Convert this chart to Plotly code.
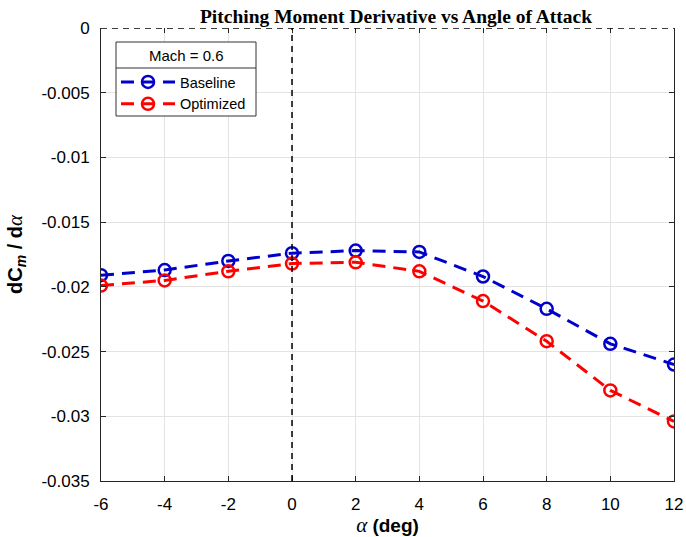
import plotly.graph_objects as go

# Angle of attack (deg)
alpha = [-6, -4, -2, 0, 2, 4, 6, 8, 10, 12]

# Pitching moment derivative dCm/dalpha at Mach 0.6
baseline = [-0.0191, -0.0187, -0.0180, -0.0174, -0.0172, -0.0173, -0.0192, -0.0217, -0.0244, -0.0260]
optimized = [-0.0199, -0.0195, -0.0188, -0.0182, -0.0181, -0.0188, -0.0211, -0.0242, -0.0280, -0.0304]

x_ticks = [-6, -4, -2, 0, 2, 4, 6, 8, 10, 12]
x_tick_text = ["-6", "-4", "-2", "0", "2", "4", "6", "8", "10", "12"]
y_ticks = [0, -0.005, -0.01, -0.015, -0.02, -0.025, -0.03, -0.035]
y_tick_text = ["0", "-0.005", "-0.01", "-0.015", "-0.02", "-0.025", "-0.03", "-0.035"]
legend_title = "Mach = 0.6"

BLUE = "#0000cc"
RED = "#ff0000"
AXIS = "#262626"
GRID = "#e3e3e3"
SANS = "Liberation Sans, Arial, sans-serif"
SERIF = "Liberation Serif, Times New Roman, serif"

# plot-area geometry in pixels (used to place the legend box)
L, R, T, B = 101, 674, 28, 481
W, H = R - L, B - T


def px(xp):
    return (xp - L) / W


def py(yp):
    return (B - yp) / H


fig = go.Figure()

for name, vals, col in [("Baseline", baseline, BLUE), ("Optimized", optimized, RED)]:
    fig.add_trace(go.Scatter(
        x=alpha, y=vals, name=name, mode="lines+markers",
        line=dict(color=col, width=3, dash="13px,8px"),
        marker=dict(symbol="circle-open", size=12, color=col, line=dict(width=2.5, color=col)),
    ))

# dashed reference lines at alpha = 0 and dCm/dalpha = 0
fig.add_shape(type="line", xref="x", yref="paper", x0=0, x1=0, y0=0, y1=1,
              line=dict(color="black", width=1.5, dash="6px,5px"), layer="above")
fig.add_shape(type="line", xref="paper", yref="y", x0=0, x1=1, y0=0, y1=0,
              line=dict(color="black", width=1.5, dash="6px,5px"), layer="above")

# legend box with titled header
fig.add_shape(type="rect", xref="paper", yref="paper",
              x0=px(116), x1=px(256), y0=py(116), y1=py(42),
              fillcolor="white", line=dict(color="#333333", width=1), layer="above")
fig.add_shape(type="line", xref="paper", yref="paper",
              x0=px(116), x1=px(256), y0=py(68), y1=py(68),
              line=dict(color="#333333", width=1), layer="above")
fig.add_annotation(xref="paper", yref="paper", x=px(186), y=py(56),
                   text=legend_title, showarrow=False, xanchor="center", yanchor="middle",
                   font=dict(family=SANS, size=15, color="black"))

fig.update_layout(
    width=686, height=537,
    margin=dict(l=L, r=686 - R, t=T, b=537 - B, autoexpand=False),
    paper_bgcolor="white", plot_bgcolor="white",
    title=dict(
        text="<b>Pitching Moment Derivative vs Angle of Attack</b>",
        font=dict(family=SERIF, size=19.5, color="black"),
        x=396 / 686, xanchor="center", y=1 - 16 / 537, yanchor="middle",
    ),
    legend=dict(
        x=px(116), y=py(66), xanchor="left", yanchor="top",
        borderwidth=0, bgcolor="rgba(0,0,0,0)",
        font=dict(family=SANS, size=14.5, color="black"),
        tracegroupgap=0, itemwidth=54,
    ),
    xaxis=dict(
        range=[-6, 12], tickvals=x_ticks, ticktext=x_tick_text,
        ticks="inside", ticklen=5, tickcolor=AXIS,
        showline=True, linecolor=AXIS, linewidth=1, mirror=False, automargin=False,
        showgrid=True, gridcolor=GRID, gridwidth=1, zeroline=False,
        tickfont=dict(family=SANS, size=17, color="black"), ticklabelstandoff=8,
        title=dict(
            text="<span style='font-family:Liberation Serif;font-style:italic;font-size:21px;font-weight:normal'>α</span> (deg)",
            font=dict(family=SANS, size=19, color="black", weight="bold"), standoff=6,
        ),
    ),
    xaxis2=dict(
        range=[-6, 12], tickvals=x_ticks, ticks="inside", ticklen=5, tickcolor=AXIS,
        overlaying="x", side="top", showline=False, showgrid=False, zeroline=False,
        showticklabels=False, automargin=False,
    ),
    yaxis=dict(
        range=[-0.035, 0], tickvals=y_ticks, ticktext=y_tick_text,
        ticks="inside", ticklen=5, tickcolor=AXIS,
        showline=True, linecolor=AXIS, linewidth=1, mirror="ticks", automargin=False,
        showgrid=True, gridcolor=GRID, gridwidth=1, zeroline=False,
        tickfont=dict(family=SANS, size=17, color="black"), ticklabelstandoff=7,
        title=dict(
            text="dC<sub><i>m</i></sub> / d<span style='font-family:Liberation Serif;font-style:italic;font-size:21px;font-weight:normal'>α</span>",
            font=dict(family=SANS, size=20, color="black", weight="bold"), standoff=13,
        ),
    ),
    showlegend=True,
)

# invisible trace to activate the top tick axis
fig.add_trace(go.Scatter(x=[-6, 12], y=[None, None], xaxis="x2", showlegend=False,
                         hoverinfo="skip", mode="lines"))

fig.write_html("out.html")
